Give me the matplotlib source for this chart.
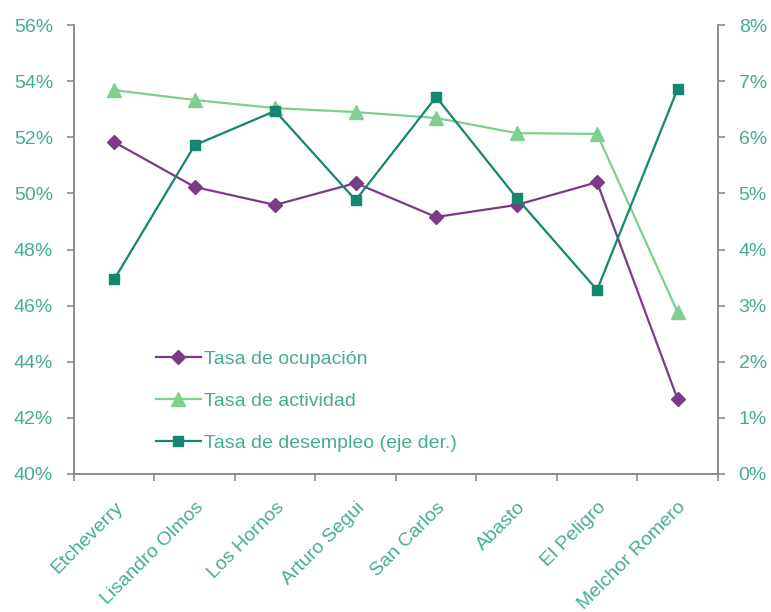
import matplotlib
matplotlib.use("Agg")
import matplotlib.pyplot as plt
from matplotlib.ticker import FuncFormatter, MultipleLocator

# data
barrios = ["Etcheverry", "Lisandro Olmos", "Los Hornos", "Arturo Segui",
           "San Carlos", "Abasto", "El Peligro", "Melchor Romero"]
ocupacion = [51.83, 50.23, 49.59, 50.37, 49.16, 49.59, 50.40, 42.67]
actividad = [53.68, 53.33, 53.04, 52.90, 52.69, 52.15, 52.12, 45.77]
desempleo = [3.47, 5.86, 6.47, 4.88, 6.72, 4.92, 3.28, 6.86]

col_ocup = "#7a3b87"
col_act = "#7fcf8f"
col_des = "#13876f"
col_txt = "#45ad95"
col_axis = "#8c8c8c"

plt.rcParams["font.family"] = ["Liberation Sans", "DejaVu Sans"]

fig = plt.figure(figsize=(7.71, 6.12), dpi=100)
ax = fig.add_axes([0.096, 0.2255, 0.835, 0.7335])
ax2 = ax.twinx()

x = list(range(len(barrios)))
l1, = ax.plot(x, ocupacion, color=col_ocup, lw=1.6, marker="D", ms=7.5,
              label="Tasa de ocupación")
l2, = ax.plot(x, actividad, color=col_act, lw=1.6, marker="^", ms=10,
              label="Tasa de actividad")
l3, = ax2.plot(x, desempleo, color=col_des, lw=1.6, marker="s", ms=7.5,
               label="Tasa de desempleo (eje der.)")

ax.set_xlim(-0.5, len(barrios) - 0.5)
ax.set_ylim(40, 56)
ax2.set_ylim(0, 8)
ax.yaxis.set_major_locator(MultipleLocator(2))
ax2.yaxis.set_major_locator(MultipleLocator(1))
ax.yaxis.set_major_formatter(FuncFormatter(lambda v, p: f"{v:.0f}%"))
ax2.yaxis.set_major_formatter(FuncFormatter(lambda v, p: f"{v:.0f}%"))

# category labels at centres, tick marks at the boundaries
ax.set_xticks(x)
ax.set_xticklabels(barrios, rotation=45, ha="right", rotation_mode="anchor")
ax.set_xticks([i - 0.5 for i in range(len(barrios) + 1)], minor=True)
ax.tick_params(axis="x", which="major", length=0, pad=18, colors=col_txt,
               labelsize=14)
ax.tick_params(axis="x", which="minor", length=5, color=col_axis, width=1.2)

ax.tick_params(axis="y", length=5, width=1.2, color=col_axis, pad=10,
               labelcolor=col_txt, labelsize=14)
ax2.tick_params(axis="y", length=5, width=1.2, color=col_axis, pad=10,
                labelcolor=col_txt, labelsize=14)

for a in (ax, ax2):
    a.spines["top"].set_visible(False)
    for s in ("left", "right", "bottom"):
        a.spines[s].set_color(col_axis)
        a.spines[s].set_linewidth(1.2)

leg = ax.legend(handles=[l1, l2, l3], loc="upper left",
                bbox_to_anchor=(0.1, 0.315), frameon=False, fontsize=14,
                labelspacing=1.25, handlelength=2.3, handletextpad=0.15)
for t in leg.get_texts():
    t.set_color(col_txt)

fig.savefig("out.png", dpi=100)
